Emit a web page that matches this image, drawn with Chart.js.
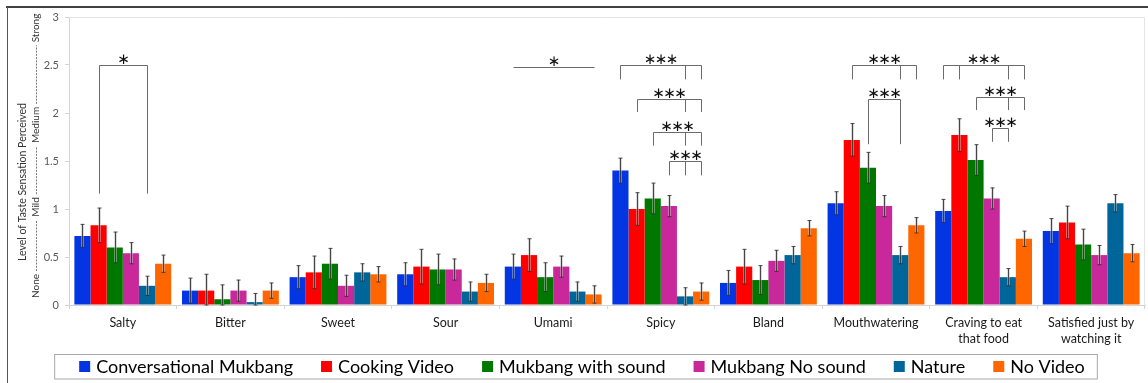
<!DOCTYPE html>
<html>
<head>
<meta charset="utf-8">
<script src="https://cdn.jsdelivr.net/npm/chart.js@4/dist/chart.umd.min.js"></script>
<style>
  html, body { margin: 0; padding: 0; background: #fff; }
  #wrap { width: 1148px; height: 383px; position: relative; }
</style>
</head>
<body>
<div id="wrap"><canvas id="c" width="1148" height="383"></canvas></div>
<script>
// Taste categories on the x axis
const categories = ['Salty', 'Bitter', 'Sweet', 'Sour', 'Umami', 'Spicy', 'Bland', 'Mouthwatering',
  ['Craving to eat', 'that food'], ['Satisfied just by', 'watching it']];

// Video conditions
const seriesNames = ['Conversational Mukbang', 'Cooking Video', 'Mukbang with sound', 'Mukbang No sound', 'Nature', 'No Video'];
const seriesColors = ['#0336E2', '#FF0000', '#007800', '#C8289A', '#006699', '#FF6600'];

// Mean perceived level per category
const conversational = [0.72, 0.15, 0.29, 0.32, 0.40, 1.40, 0.23, 1.06, 0.98, 0.77];
const cooking        = [0.83, 0.15, 0.34, 0.40, 0.52, 1.00, 0.40, 1.72, 1.77, 0.86];
const mukbangSound   = [0.60, 0.06, 0.43, 0.37, 0.29, 1.11, 0.26, 1.43, 1.51, 0.63];
const mukbangNoSound = [0.54, 0.15, 0.20, 0.37, 0.40, 1.03, 0.46, 1.03, 1.11, 0.52];
const nature         = [0.20, 0.03, 0.34, 0.14, 0.14, 0.09, 0.52, 0.52, 0.29, 1.06];
const noVideo        = [0.43, 0.15, 0.32, 0.23, 0.11, 0.14, 0.80, 0.83, 0.69, 0.54];

// Standard error per category
const conversationalErr = [0.12, 0.13, 0.12, 0.12, 0.13, 0.13, 0.13, 0.12, 0.12, 0.13];
const cookingErr        = [0.18, 0.17, 0.17, 0.18, 0.17, 0.17, 0.18, 0.17, 0.17, 0.17];
const mukbangSoundErr   = [0.16, 0.15, 0.16, 0.16, 0.15, 0.16, 0.15, 0.16, 0.16, 0.16];
const mukbangNoSoundErr = [0.11, 0.11, 0.11, 0.11, 0.11, 0.11, 0.11, 0.11, 0.11, 0.10];
const natureErr         = [0.10, 0.09, 0.09, 0.10, 0.10, 0.09, 0.09, 0.09, 0.09, 0.09];
const noVideoErr        = [0.09, 0.08, 0.08, 0.09, 0.09, 0.09, 0.08, 0.08, 0.08, 0.09];

// Y axis ticks and the verbal scale beside them
const yTickLabels = ['0', '0.5', '1', '1.5', '2', '2.5', '3'];
const levelWords = ['None', 'Mild', 'Medium', 'Strong'];

// Significance markers: category index, compared series, bracket top / leg bottom (axis units), label
const sigCategory = [0, 4, 5, 5, 5, 5, 7, 7, 8, 8, 8];
const sigSeries   = [[1, 4], [0, 5], [0, 4, 5], [1, 4, 5], [2, 4, 5], [3, 4, 5], [1, 4, 5], [2, 4], [0, 1, 4, 5], [2, 4, 5], [3, 4]];
const sigTop      = [2.50, 2.48, 2.50, 2.15, 1.805, 1.50, 2.50, 2.15, 2.50, 2.165, 1.84];
const sigBottom   = [1.16, 2.48, 2.35, 2.01, 1.66, 1.35, 2.35, 1.675, 2.35, 2.03, 1.70];
const sigLabel    = ['*', '*', '***', '***', '***', '***', '***', '***', '***', '***', '***'];

const values = [conversational, cooking, mukbangSound, mukbangNoSound, nature, noVideo];
const errors = [conversationalErr, cookingErr, mukbangSoundErr, mukbangNoSoundErr, natureErr, noVideoErr];

const datasets = seriesNames.map((name, i) => ({
  label: name,
  data: values[i],
  backgroundColor: seriesColors[i],
  borderWidth: 0,
  categoryPercentage: 0.9,
  barPercentage: 1.0
}));

const FONT = 'Lato, "Open Sans", sans-serif';

const decor = {
  id: 'decor',
  beforeDraw(chart) {
    const ctx = chart.ctx;
    ctx.save();
    ctx.fillStyle = '#fff';
    ctx.fillRect(0, 0, chart.width, chart.height);
    ctx.restore();
  },
  afterDatasetsDraw(chart) {
    const ctx = chart.ctx;
    const ys = chart.scales.y;
    ctx.save();
    // error bars
    values.forEach((arr, i) => {
      const meta = chart.getDatasetMeta(i);
      arr.forEach((v, j) => {
        const bar = meta.data[j];
        const e = errors[i][j];
        const yt = ys.getPixelForValue(v + e);
        const yb = ys.getPixelForValue(Math.max(0, v - e));
        const x = Math.round(bar.x) + 0.5;
        ctx.strokeStyle = 'rgba(190,190,190,0.7)';
        ctx.lineWidth = 2.5;
        ctx.beginPath();
        ctx.moveTo(x, yt); ctx.lineTo(x, yb);
        ctx.stroke();
        ctx.strokeStyle = 'rgba(45,45,45,0.85)';
        ctx.lineWidth = 1;
        ctx.beginPath();
        ctx.moveTo(x, yt); ctx.lineTo(x, yb);
        ctx.moveTo(x - 2, yt); ctx.lineTo(x + 2, yt);
        ctx.moveTo(x - 2, yb); ctx.lineTo(x + 2, yb);
        ctx.stroke();
      });
    });
    // significance brackets
    ctx.strokeStyle = '#6b6b6b';
    ctx.lineWidth = 1;
    ctx.fillStyle = '#111';
    ctx.font = '15px "DejaVu Sans"';
    ctx.textAlign = 'center';
    ctx.textBaseline = 'middle';
    sigCategory.forEach((c, k) => {
      const xs = sigSeries[k].map(s => Math.round(chart.getDatasetMeta(s).data[c].x) + 0.5);
      const yt = Math.round(ys.getPixelForValue(sigTop[k])) + 0.5;
      const yb = ys.getPixelForValue(sigBottom[k]);
      const x0 = Math.min(...xs), x1 = Math.max(...xs);
      ctx.beginPath();
      ctx.moveTo(x0, yt); ctx.lineTo(x1, yt);
      if (yb > yt + 0.5) {
        xs.forEach(x => { ctx.moveTo(x, yt); ctx.lineTo(x, yb); });
      }
      ctx.stroke();
      const n = sigLabel[k].length;
      const cx = (x0 + x1) / 2;
      for (let s = 0; s < n; s++) {
        ctx.fillText('\u2217', cx + (s - (n - 1) / 2) * 11, yt - 5);
      }
    });
    ctx.restore();
  },
  afterDraw(chart) {
    const ctx = chart.ctx;
    const a = chart.chartArea;
    const ys = chart.scales.y;
    ctx.save();
    // plot area outline
    ctx.strokeStyle = '#e4e4e4';
    ctx.lineWidth = 1;
    ctx.beginPath();
    ctx.moveTo(a.left, a.top + 0.5); ctx.lineTo(a.right - 0.5, a.top + 0.5); ctx.lineTo(a.right - 0.5, a.bottom);
    ctx.stroke();
    // outer frame
    ctx.strokeStyle = '#000';
    ctx.lineWidth = 1.6;
    ctx.beginPath();
    ctx.moveTo(6, 7); ctx.lineTo(chart.width, 7);
    ctx.stroke();
    ctx.strokeStyle = '#555';
    ctx.lineWidth = 1;
    ctx.beginPath();
    ctx.moveTo(7.5, 7); ctx.lineTo(7.5, chart.height);
    ctx.stroke();

    // y axis title
    ctx.fillStyle = '#333';
    ctx.textAlign = 'center';
    ctx.textBaseline = 'middle';
    ctx.font = '10.5px ' + FONT;
    ctx.save();
    ctx.translate(23, 182);
    ctx.rotate(-Math.PI / 2);
    ctx.fillText('Level of Taste Sensation Perceived', 0, 0);
    ctx.restore();

    // verbal scale column: words with dashed connectors
    const wordCenters = [286, 207, 125, 28];
    const colX = 36;
    ctx.font = '10px ' + FONT;
    const spans = levelWords.map((w, i) => {
      const h = ctx.measureText(w).width;
      return [wordCenters[i] + h / 2, wordCenters[i] - h / 2];
    });
    levelWords.forEach((w, i) => {
      ctx.save();
      ctx.translate(colX, wordCenters[i]);
      ctx.rotate(-Math.PI / 2);
      ctx.fillText(w, 0, 0);
      ctx.restore();
    });
    ctx.strokeStyle = '#555';
    ctx.lineWidth = 0.8;
    ctx.setLineDash([2, 1.2]);
    for (let i = 0; i < spans.length - 1; i++) {
      ctx.beginPath();
      ctx.moveTo(colX + 0.5, spans[i][1] - 3);
      ctx.lineTo(colX + 0.5, spans[i + 1][0] + 3);
      ctx.stroke();
    }
    ctx.setLineDash([]);

    // legend
    ctx.font = '18px ' + FONT;
    ctx.textAlign = 'left';
    const sq = 11, gapIn = 6, gapOut = 28;
    const widths = seriesNames.map(n => sq + gapIn + ctx.measureText(n).width);
    const total = widths.reduce((s, w) => s + w, 0) + gapOut * (seriesNames.length - 1);
    let x = 582 - total / 2;
    const ly = 366.5;
    ctx.strokeStyle = '#a8a8a8';
    ctx.lineWidth = 1;
    ctx.strokeRect(x - 25 + 0.5, 354.5, total + 37, 24.5);
    seriesNames.forEach((n, i) => {
      ctx.fillStyle = seriesColors[i];
      ctx.fillRect(x, ly - sq / 2, sq, sq);
      ctx.fillStyle = '#000';
      ctx.fillText(n, x + sq + gapIn, ly + 1);
      x += widths[i] + gapOut;
    });
    ctx.restore();
  }
};

new Chart(document.getElementById('c'), {
  type: 'bar',
  data: { labels: categories, datasets },
  options: {
    responsive: false,
    animation: false,
    devicePixelRatio: 1,
    layout: { padding: { top: 17, right: 3, left: 0, bottom: 0 } },
    plugins: { legend: { display: false }, tooltip: { enabled: false } },
    scales: {
      x: {
        grid: { display: true, drawOnChartArea: false, offset: true, tickLength: 4, color: '#d4d4d4' },
        border: { color: '#d4d4d4' },
        ticks: { font: { family: FONT, size: 12.5, lineHeight: 1.3 }, color: '#1a1a1a', padding: 6, maxRotation: 0, autoSkip: false },
        afterFit(s) { s.height = 78; }
      },
      y: {
        min: 0, max: 3,
        grid: { display: true, drawOnChartArea: false, tickLength: 4, color: '#d4d4d4' },
        border: { color: '#d4d4d4' },
        ticks: {
          stepSize: 0.5, padding: 6, color: '#595959',
          font: { family: FONT, size: 11 },
          callback: (v, i) => yTickLabels[i]
        },
        afterFit(s) { s.width = 69; }
      }
    }
  },
  plugins: [decor]
});
</script>
</body>
</html>
